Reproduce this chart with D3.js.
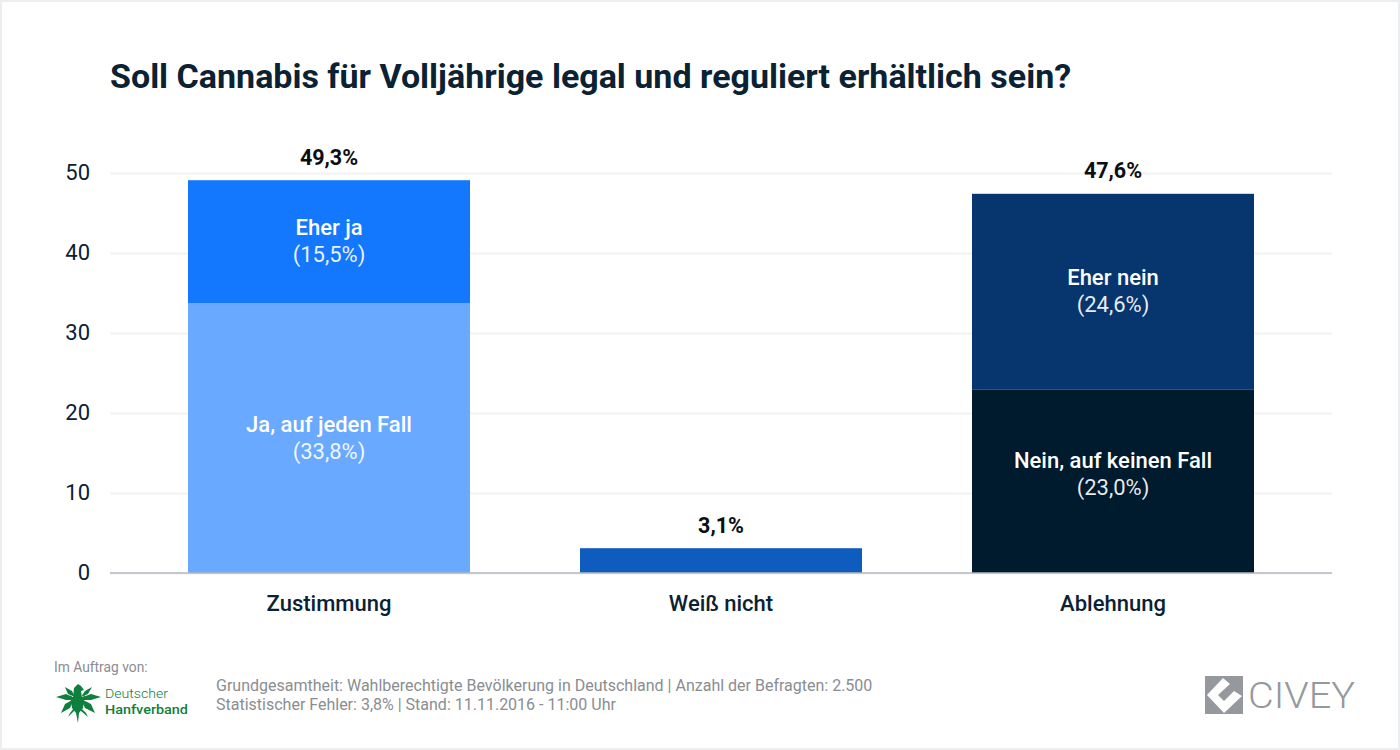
<!DOCTYPE html>
<html>
<head>
<meta charset="utf-8">
<script src="https://cdn.jsdelivr.net/npm/d3@7"></script>
<style>
html, body { margin: 0; padding: 0; background: #fff; }
svg { display: block; font-family: Roboto, sans-serif; }
</style>
</head>
<body>
<svg id="chart" width="1400" height="750"></svg>
<script>
const categories = ['Zustimmung', 'Weiß nicht', 'Ablehnung'];
const segmentNames = ['Ja, auf jeden Fall', 'Eher ja', 'Weiß nicht', 'Nein, auf keinen Fall', 'Eher nein'];
const segmentColors = ['#69a9ff', '#1478ff', '#0f5cbf', '#001a2e', '#07366f'];
// bar heights as drawn in the picture (slightly off the printed percentages)
const zustimmungValues = [33.7, 15.4, 0, 0, 0];
const weissNichtValues = [0, 0, 3.1, 0, 0];
const ablehnungValues = [0, 0, 0, 22.9, 24.5];
// percentages as printed
const segmentLabels = ['33,8%', '15,5%', '', '23,0%', '24,6%'];
const totalLabels = ['49,3%', '3,1%', '47,6%'];
const yTicks = [0, 10, 20, 30, 40, 50];
const footerLines = [
    'Grundgesamtheit: Wahlberechtigte Bevölkerung in Deutschland | Anzahl der Befragten: 2.500',
    'Statistischer Fehler: 3,8% | Stand: 11.11.2016 - 11:00 Uhr'
];

const svg = d3.select('#chart');

// frame
svg.append('rect').attr('x', 1).attr('y', 1).attr('width', 1398).attr('height', 748)
    .attr('fill', '#fff').attr('stroke', '#eceef0').attr('stroke-width', 2);

svg.append('text').attr('x', 110).attr('y', 88)
    .attr('font-size', 34).attr('font-weight', 700).attr('fill', '#0a2233')
    .text('Soll Cannabis für Volljährige legal und reguliert erhältlich sein?');

const x = d3.scaleBand().domain(categories).range([110, 1332]).paddingInner(0.2806).paddingOuter(0.199);
const y = d3.scaleLinear().domain([0, 50]).range([573, 173]);

// Gridlines + y labels
const yAxis = svg.append('g').attr('transform', 'translate(110,0)')
    .call(d3.axisLeft(y).tickValues(yTicks).tickSize(-1222).tickPadding(20));
yAxis.select('.domain').remove();
yAxis.selectAll('.tick line').attr('stroke', '#f1f2f3').attr('stroke-width', 2);
yAxis.selectAll('.tick text').attr('y', -1).attr('font-size', 22).attr('font-family', 'Roboto').attr('fill', '#0a2233');

// Stacked bars
const columns = [zustimmungValues, weissNichtValues, ablehnungValues];
const rows = categories.map((c, i) => {
    const row = { category: c };
    segmentNames.forEach((n, j) => { row[n] = columns[i][j]; });
    return row;
});
const series = d3.stack().keys(segmentNames)(rows);

// small nudges, the original labels are not exactly centred
const labelShift = { 'Ja, auf jeden Fall': 0, 'Eher ja': -1, 'Nein, auf keinen Fall': -7, 'Eher nein': -1 };

series.forEach((s, j) => {
    const g = svg.append('g');
    g.selectAll('rect').data(s.filter(d => d[1] > d[0])).enter().append('rect')
        .attr('x', d => x(d.data.category))
        .attr('width', x.bandwidth())
        .attr('y', d => y(d[1]))
        .attr('height', d => y(d[0]) - y(d[1]))
        .attr('fill', segmentColors[j]);

    // labels inside the segments (not for the small middle bar)
    if (s.key === 'Weiß nicht') return;
    const lab = g.selectAll('g').data(s.filter(d => d[1] > d[0])).enter().append('g')
        .attr('transform', d => `translate(${x(d.data.category) + x.bandwidth() / 2},${y((d[0] + d[1]) / 2) + labelShift[s.key]})`)
        .attr('text-anchor', 'middle').attr('fill', '#fff').attr('font-size', 22);
    lab.append('text').attr('y', -6).attr('font-weight', 500).text(s.key);
    lab.append('text').attr('y', 21).attr('font-weight', 400).attr('fill-opacity', 0.92).text(`(${segmentLabels[j]})`);
});

// Totals above the bars
svg.append('g').selectAll('text').data(categories).enter().append('text')
    .attr('x', d => x(d) + x.bandwidth() / 2)
    .attr('y', (d, i) => y(d3.sum(columns[i])) - 15.5)
    .attr('text-anchor', 'middle').attr('font-size', 21.5).attr('font-weight', 700).attr('fill', '#0b0f12')
    .text((d, i) => totalLabels[i]);

// Category labels
const xAxis = svg.append('g').attr('transform', 'translate(0,573)')
    .call(d3.axisBottom(x).tickSize(0).tickPadding(22));
xAxis.select('.domain').remove();
xAxis.selectAll('.tick text').attr('font-size', 22).attr('font-family', 'Roboto').attr('font-weight', 500).attr('fill', '#0a2233');
svg.append('line').attr('x1', 110).attr('x2', 1332).attr('y1', 573).attr('y2', 573).attr('stroke', '#b4b8bc').attr('stroke-width', 1.5);

// Footer
svg.append('text').attr('x', 54).attr('y', 672).attr('font-size', 13.8).attr('fill', '#8a8d91').text('Im Auftrag von:');
svg.append('g').selectAll('text').data(footerLines).enter().append('text')
    .attr('x', 216).attr('y', (d, i) => 690.5 + i * 19)
    .attr('font-size', 16).attr('fill', '#8a8d91').text(d => d);

// Hanfverband logo (hand drawn)
const hemp = svg.append('g').attr('fill', '#0e7f3c');
[
    'M74 688 L78 684 L81 686 L84 690 L81 691 L82 698 L85 695 L83 708 L79 713 L78 723 L76 713 L72 708 L70 695 L73 698 Z', // bird and stem
    'M56 697 L66 694 L75 698 L75 700 L66 700 Z',
    'M101 697 L91 694 L80 698 L80 700 L91 700 Z',
    'M65 687 L72 691 L75 697 L68 694 Z',
    'M92 687 L85 691 L81 697 L88 694 Z',
    'M61 713 L65 704 L74 699 L70 708 Z',
    'M95 713 L91 704 L81 699 L85 708 Z',
    'M68 717 L70 713 L74 708 L74 711 Z',
    'M88 717 L86 713 L81 708 L81 711 Z'
].forEach(d => hemp.append('path').attr('d', d));
svg.append('text').attr('x', 105).attr('y', 697.5).attr('font-size', 13.5).attr('font-weight', 300).attr('fill', '#0e7f3c').attr('textLength', 63).attr('lengthAdjust', 'spacingAndGlyphs').text('Deutscher');
svg.append('text').attr('x', 105).attr('y', 713.5).attr('font-size', 13.5).attr('font-weight', 500).attr('fill', '#0e7f3c').attr('textLength', 83).attr('lengthAdjust', 'spacingAndGlyphs').text('Hanfverband');

// Civey logo
const civey = svg.append('g').attr('fill', '#95999d');
civey.append('rect').attr('x', 1205).attr('y', 676).attr('width', 38).attr('height', 38);
civey.append('path').attr('fill', '#fff').attr('d', 'M1223 678 L1230 684 L1218 695 L1224 701 L1234 691 L1242 696 L1224 713 L1207 695 Z');
civey.append('text').attr('x', 1248).attr('y', 708).attr('font-size', 36).attr('font-weight', 300).attr('textLength', 107).attr('lengthAdjust', 'spacingAndGlyphs').text('CIVEY');
</script>
</body>
</html>
